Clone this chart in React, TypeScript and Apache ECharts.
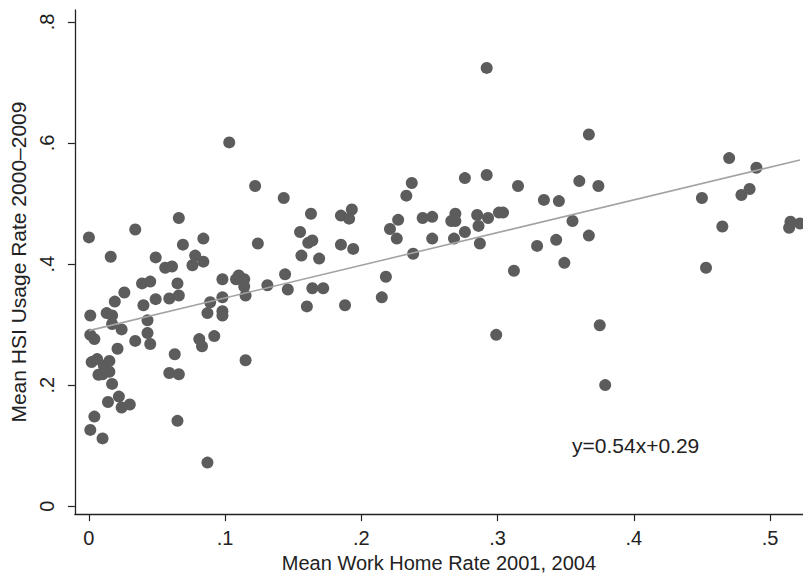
import React, { useEffect, useRef } from "react";
import * as echarts from "echarts";

const workHomeRate = [
  0.103, 0.122, 0.066, 0.034, 0.000, 0.069, 0.084, 0.124, 0.016, 0.049,
  0.078, 0.056, 0.061, 0.076, 0.084, 0.026, 0.039, 0.045, 0.065, 0.098,
  0.108, 0.110, 0.114, 0.131, 0.114, 0.115, 0.019, 0.040, 0.049, 0.059,
  0.066, 0.089, 0.098, 0.001, 0.013, 0.017, 0.087, 0.098, 0.098, 0.043,
  0.017, 0.024, 0.001, 0.004, 0.043, 0.034, 0.045, 0.081, 0.083, 0.092,
  0.021, 0.063, 0.115, 0.002, 0.006, 0.015, 0.011, 0.007, 0.010, 0.015,
  0.059, 0.066, 0.017, 0.022, 0.014, 0.024, 0.030, 0.004, 0.001, 0.010,
  0.065, 0.087, 0.143, 0.163, 0.155, 0.161, 0.164, 0.185, 0.193, 0.191,
  0.185, 0.194, 0.237, 0.233, 0.227, 0.221, 0.226, 0.245, 0.252, 0.252,
  0.266, 0.269, 0.269, 0.156, 0.169, 0.238, 0.144, 0.146, 0.164, 0.172,
  0.218, 0.215, 0.160, 0.188, 0.292, 0.367, 0.276, 0.292, 0.315, 0.360,
  0.374, 0.334, 0.345, 0.285, 0.293, 0.301, 0.304, 0.286, 0.276, 0.268,
  0.287, 0.355, 0.367, 0.343, 0.329, 0.349, 0.312, 0.375, 0.299, 0.379,
  0.470, 0.490, 0.485, 0.479, 0.450, 0.465, 0.515, 0.514, 0.522, 0.453,
];

const hsiUsageRate = [
  0.601, 0.529, 0.476, 0.457, 0.444, 0.432, 0.442, 0.434, 0.412, 0.411,
  0.414, 0.394, 0.396, 0.398, 0.404, 0.353, 0.368, 0.371, 0.368, 0.375,
  0.375, 0.381, 0.375, 0.365, 0.363, 0.348, 0.338, 0.332, 0.342, 0.343,
  0.348, 0.337, 0.345, 0.315, 0.319, 0.315, 0.319, 0.322, 0.315, 0.307,
  0.301, 0.292, 0.283, 0.276, 0.286, 0.273, 0.268, 0.276, 0.264, 0.281,
  0.260, 0.251, 0.241, 0.238, 0.243, 0.240, 0.232, 0.217, 0.218, 0.222,
  0.220, 0.218, 0.202, 0.181, 0.172, 0.163, 0.168, 0.148, 0.126, 0.112,
  0.141, 0.072, 0.509, 0.483, 0.453, 0.435, 0.439, 0.480, 0.490, 0.475,
  0.432, 0.425, 0.534, 0.513, 0.473, 0.458, 0.442, 0.476, 0.478, 0.442,
  0.471, 0.471, 0.483, 0.414, 0.409, 0.417, 0.383, 0.358, 0.360, 0.360,
  0.379, 0.345, 0.330, 0.332, 0.724, 0.614, 0.542, 0.547, 0.529, 0.537,
  0.529, 0.506, 0.504, 0.481, 0.476, 0.485, 0.485, 0.463, 0.453, 0.442,
  0.434, 0.471, 0.447, 0.440, 0.430, 0.402, 0.389, 0.299, 0.283, 0.200,
  0.575, 0.559, 0.524, 0.514, 0.509, 0.462, 0.470, 0.460, 0.467, 0.394,
];

const xTickValues = [0, 0.1, 0.2, 0.3, 0.4, 0.5];
const yTickValues = [0, 0.2, 0.4, 0.6, 0.8];
const fitSlope = 0.54;
const fitIntercept = 0.29;
const equationLabel = "y=0.54x+0.29";
const xTitle = "Mean Work Home Rate 2001, 2004";
const yTitle = "Mean HSI Usage Rate 2000\u20132009";

const FONT = "'Liberation Sans', Arial, Helvetica, sans-serif";

function fmt(v: number): string {
  if (Math.abs(v) < 1e-9) return "0";
  return v.toFixed(1).replace(/^0/, "");
}

export default function App() {
  const ref = useRef<HTMLDivElement>(null);
  useEffect(() => {
    if (!ref.current) return;
    const chart = echarts.init(ref.current, undefined, { renderer: "svg" });
    const points = workHomeRate.map((x, i) => [x, hsiUsageRate[i]]);
    const minX = Math.min(...workHomeRate);
    const maxX = Math.max(...workHomeRate);
    const fitLine = [
      [minX, fitIntercept + fitSlope * minX],
      [maxX, fitIntercept + fitSlope * maxX],
    ];
    const axisColor = "#222";
    chart.setOption({
      animation: false,
      backgroundColor: "#ffffff",
      grid: { left: 74, right: 0, top: 10, bottom: 61, containLabel: false },
      xAxis: {
        type: "value",
        min: -0.0103,
        max: 0.5242,
        name: xTitle,
        nameLocation: "middle",
        nameGap: 38,
        nameTextStyle: { fontFamily: FONT, fontSize: 20, color: "#222" },
        axisLine: { show: true, onZero: false, lineStyle: { color: axisColor, width: 1.3 } },
        axisTick: { show: true, length: 7, customValues: xTickValues, lineStyle: { color: axisColor, width: 1.2 } },
        axisLabel: {
          customValues: xTickValues,
          formatter: (v: number) => fmt(v),
          margin: 14,
          fontFamily: FONT,
          fontSize: 20,
          color: "#222",
        },
        splitLine: { show: false },
      },
      yAxis: {
        type: "value",
        min: -0.0131,
        max: 0.8197,
        name: yTitle,
        nameLocation: "middle",
        nameGap: 41,
        nameRotate: 90,
        nameTextStyle: { fontFamily: FONT, fontSize: 21, color: "#222" },
        axisLine: { show: true, onZero: false, lineStyle: { color: axisColor, width: 1.3 } },
        axisTick: { show: true, length: 7, customValues: yTickValues, lineStyle: { color: axisColor, width: 1.2 } },
        axisLabel: {
          customValues: yTickValues,
          formatter: (v: number) => fmt(v),
          rotate: 90,
          margin: 18,
          fontFamily: FONT,
          fontSize: 20,
          color: "#222",
        },
        splitLine: { show: false },
      },
      series: [
        {
          type: "scatter",
          data: points,
          symbol: "circle",
          symbolSize: 12,
          itemStyle: { color: "#5c5c5c", opacity: 1 },
          z: 2,
        },
        {
          type: "line",
          data: fitLine,
          symbol: "none",
          lineStyle: { color: "#a3a3a3", width: 1.6 },
          z: 3,
        },
      ],
      graphic: [
        {
          type: "text",
          left: 572,
          top: 435,
          style: { text: equationLabel, fontFamily: FONT, fontSize: 21, fill: "#222" },
        },
      ],
    });
    return () => chart.dispose();
  }, []);
  return (
    <div
      ref={ref}
      style={{ position: "fixed", left: 0, top: 0, width: 803, height: 578, background: "#fff" }}
    />
  );
}
